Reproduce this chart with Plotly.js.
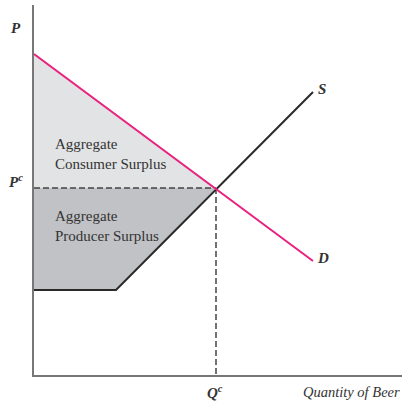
<!DOCTYPE html>
<html><head><meta charset="utf-8">
<script src="https://cdn.plot.ly/plotly-3.0.1.min.js"></script>
<style>html,body{margin:0;padding:0;background:#fff}#chart{width:404px;height:404px}</style>
</head><body><div id="chart"></div>
<script>
// Demand curve (quantity, price)
const demandQ = [0, 13.95];
const demandP = [16.05, 5.7];
// Supply curve with a flat segment
const supplyQ = [0, 4.1, 13.95];
const supplyP = [4.25, 4.25, 14.15];
// Equilibrium
const eqQ = 9.1;
const eqP = 9.35;
// Labels
const curveLabels = ["S", "D"];
const surplusLabels = ["Aggregate<br>Consumer Surplus", "Aggregate<br>Producer Surplus"];
const axisLabels = ["P", "P<sup>c</sup>", "Q<sup>c</sup>", "Quantity of Beer"];

const xMax = 18.4, yMax = 18.5;
const serif = "Liberation Serif, Times New Roman, serif";

const traces = [
  { // consumer surplus
    x: [demandQ[0], eqQ, 0, demandQ[0]],
    y: [demandP[0], eqP, eqP, demandP[0]],
    mode: "lines", fill: "toself", fillcolor: "#e2e3e5",
    line: {width: 0, color: "rgba(0,0,0,0)"}, hoverinfo: "skip"
  },
  { // producer surplus
    x: [0, eqQ, supplyQ[1], supplyQ[0], 0],
    y: [eqP, eqP, supplyP[1], supplyP[0], eqP],
    mode: "lines", fill: "toself", fillcolor: "#c1c2c5",
    line: {width: 0, color: "rgba(0,0,0,0)"}, hoverinfo: "skip"
  },
  { // dashed horizontal
    x: [0, eqQ], y: [eqP, eqP], mode: "lines",
    line: {color: "#444", width: 1.5, dash: "6px,3px"}, hoverinfo: "skip"
  },
  { // dashed vertical
    x: [eqQ, eqQ], y: [eqP, 0], mode: "lines",
    line: {color: "#444", width: 1.5, dash: "6px,3px"}, hoverinfo: "skip"
  },
  { // supply
    x: supplyQ, y: supplyP, mode: "lines",
    line: {color: "#2a2a2a", width: 2}, hoverinfo: "skip"
  },
  { // demand
    x: demandQ, y: demandP, mode: "lines",
    line: {color: "#e8227f", width: 2}, hoverinfo: "skip"
  }
];

const ann = (x, y, text, opts) => Object.assign({
  x: x, y: y, xref: "x", yref: "y", text: text, showarrow: false,
  xanchor: "center", yanchor: "middle",
  font: {family: serif, size: 15, color: "#333"}
}, opts || {});
const labFont = {family: serif, size: 15, color: "#333", style: "italic", weight: "bold"};

const annotations = [
  ann(supplyQ[2] + 0.45, supplyP[2] + 0.15, curveLabels[0], {font: labFont}),
  ann(demandQ[1] + 0.5, demandP[1] + 0.15, curveLabels[1], {font: labFont}),
  ann(0.95, 11.05, surplusLabels[0], {xanchor: "left", align: "left"}),
  ann(0.95, 7.45, surplusLabels[1], {xanchor: "left", align: "left"}),
  ann(-0.049, 0.938, axisLabels[0], {xref: "paper", yref: "paper", font: labFont}),
  ann(-0.049, (eqP + 0.35) / yMax, axisLabels[1], {xref: "paper", yref: "paper", font: labFont}),
  ann((eqQ - 0.05) / xMax, -0.046, axisLabels[2], {xref: "paper", yref: "paper", font: labFont}),
  ann(0.864, -0.046, axisLabels[3], {xref: "paper", yref: "paper",
      font: {family: serif, size: 14.5, color: "#333", style: "italic"}})
];

const layout = {
  width: 404, height: 404,
  margin: {l: 34, r: 2, t: 5, b: 29},
  paper_bgcolor: "#fff", plot_bgcolor: "#fff",
  showlegend: false,
  xaxis: {range: [0, xMax], showgrid: false, zeroline: false, showticklabels: false, ticks: "",
          showline: true, linecolor: "#777", linewidth: 2, fixedrange: true},
  yaxis: {range: [0, yMax], showgrid: false, zeroline: false, showticklabels: false, ticks: "",
          showline: true, linecolor: "#777", linewidth: 2, fixedrange: true},
  annotations: annotations
};

Plotly.newPlot("chart", traces, layout, {displayModeBar: false, staticPlot: true});
</script>
</body></html>
